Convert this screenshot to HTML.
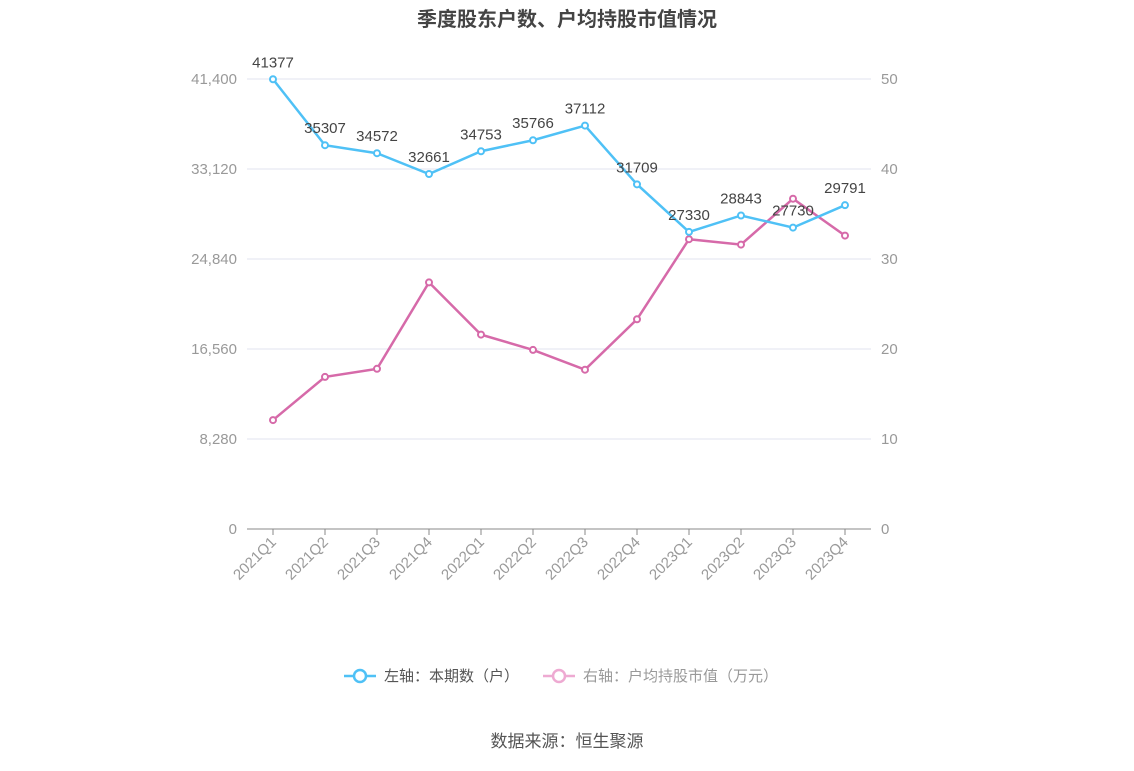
<!DOCTYPE html>
<html><head><meta charset="utf-8"><style>
body{margin:0;background:#fff;font-family:"Liberation Sans","Noto Sans CJK SC",sans-serif}
</style></head><body>
<svg id="c" width="1134" height="766" xmlns="http://www.w3.org/2000/svg" font-family="Liberation Sans, Noto Sans CJK SC, sans-serif">
<text x="567" y="26" text-anchor="middle" font-size="20" font-weight="bold" fill="#444">季度股东户数、户均持股市值情况</text>
<g id="grid"></g><g id="axes"></g><g id="series"></g>
<g>
<g><line x1="344" y1="676" x2="376" y2="676" stroke="#4fc1f6" stroke-width="2.5"/><circle cx="360" cy="676" r="6" fill="#fff" stroke="#4fc1f6" stroke-width="2.5"/><text x="384" y="681" font-size="15" fill="#555">左轴：本期数（户）</text></g>
<g><line x1="543" y1="676" x2="575" y2="676" stroke="#eeaad2" stroke-width="2.5"/><circle cx="559" cy="676" r="6" fill="#fff" stroke="#eeaad2" stroke-width="2.5"/><text x="583" y="681" font-size="15" fill="#999">右轴：户均持股市值（万元）</text></g>
</g>
<text x="567" y="747" text-anchor="middle" font-size="17" fill="#555">数据来源：恒生聚源</text>
</svg>
<script>
const categories=["2021Q1","2021Q2","2021Q3","2021Q4","2022Q1","2022Q2","2022Q3","2022Q4","2023Q1","2023Q2","2023Q3","2023Q4"];
const holders=[41377,35307,34572,32661,34753,35766,37112,31709,27330,28843,27730,29791];
const avgValue=[12.1,16.9,17.8,27.4,21.6,19.9,17.7,23.3,32.2,31.6,36.7,32.6];
const leftTicks=[0,8280,16560,24840,33120,41400];
const rightTicks=[0,10,20,30,40,50];
const NS="http://www.w3.org/2000/svg";
const x0=247,x1=871,yTop=79,yBot=529;
const bw=(x1-x0)/categories.length;
const xs=i=>x0+bw*(i+0.5);
const yl=v=>yBot-(v/41400)*(yBot-yTop);
const yr=v=>yBot-(v/50)*(yBot-yTop);
function el(t,a,p,txt){const e=document.createElementNS(NS,t);for(const k in a)e.setAttribute(k,a[k]);if(txt!==undefined)e.textContent=txt;p.appendChild(e);return e;}
const grid=document.getElementById('grid'),axes=document.getElementById('axes'),ser=document.getElementById('series');
leftTicks.forEach((t,i)=>{const y=yl(t);
 if(i>0){const g=el('line',{x1:x0,x2:x1,y1:y,y2:y,stroke:'#e0e3ef'},grid);}
 const l=el('text',{x:237,y:y+5,'text-anchor':'end','font-size':15,fill:'#999'},axes,t.toLocaleString('en-US'));});
rightTicks.forEach(t=>{const l=el('text',{x:881,y:yr(t)+5,'font-size':15,fill:'#999'},axes,String(t));});
const ax=el('line',{x1:x0,x2:x1,y1:yBot,y2:yBot,stroke:'#888'},axes);
categories.forEach((c,i)=>{const x=xs(i);
 el('line',{x1:x,x2:x,y1:yBot,y2:yBot+6,stroke:'#888'},axes);
 const t=el('text',{x:x+4,y:yBot+14,'text-anchor':'end','font-size':15,fill:'#999',transform:`rotate(-45 ${x+4} ${yBot+14})`},axes,c);
 });
function line(vals,yf,color,name,labels){
 const p=el('polyline',{points:vals.map((v,i)=>xs(i)+','+yf(v)).join(' '),fill:'none',stroke:color,'stroke-width':2.5},ser);
 
 vals.forEach((v,i)=>{const c=el('circle',{cx:xs(i),cy:yf(v),r:3,fill:'#fff',stroke:color,'stroke-width':2},ser);
  
  if(labels){const t=el('text',{x:xs(i),y:yf(v)-12,'text-anchor':'middle','font-size':15,fill:'#444'},ser,String(v));}});
}
line(avgValue,yr,'#d66aa9','avg-value',false);
line(holders,yl,'#4fc1f6','holders',true);
</script>
</body></html>
